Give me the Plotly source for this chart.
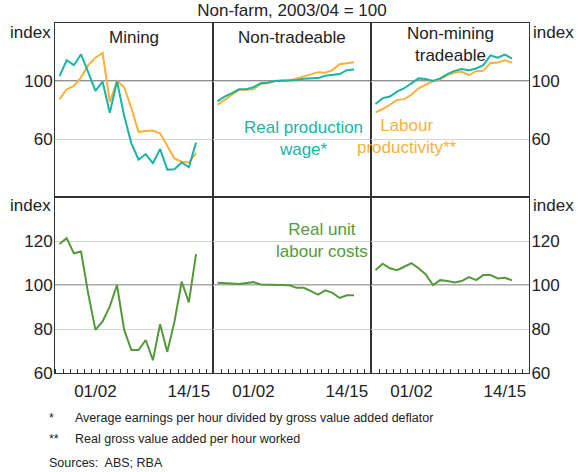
import plotly.graph_objects as go
from plotly.subplots import make_subplots

# Fiscal years 1995/96 .. 2014/15 (x = year ending June)
years = list(range(1996, 2016))
panel_titles = ["Mining", "Non-tradeable", "Non-mining<br>tradeable"]

# Real production wage* (teal)
rpw_mining = [103.4, 114.3, 110.9, 118.4, 106.0, 93.2, 99.5, 78.0, 99.8, 76.0,
              57.0, 45.7, 49.6, 43.4, 53.0, 38.9, 39.2, 43.8, 40.5, 57.5]
rpw_nontrad = [85.9, 89.3, 91.6, 94.3, 94.3, 95.7, 98.4, 98.9, 100.0, 100.2,
               100.2, 100.7, 101.6, 102.0, 102.0, 103.6, 104.1, 104.8, 107.5, 108.0]
rpw_nmtrad = [84.1, 88.2, 89.3, 92.7, 95.0, 98.4, 101.8, 101.4, 100.0, 101.8,
              104.8, 107.0, 108.2, 107.5, 108.6, 110.9, 117.7, 116.1, 118.2, 115.5]

# Labour productivity** (orange)
lp_mining = [87.5, 94.3, 96.6, 102.5, 110.9, 116.1, 119.3, 85.5, 100.0, 95.7,
             81.4, 64.8, 65.5, 65.9, 63.9, 55.2, 46.6, 44.3, 43.8, 50.2]
lp_nontrad = [83.6, 87.0, 90.5, 93.9, 93.9, 94.3, 98.0, 98.4, 100.0, 100.4,
              100.2, 101.6, 102.9, 104.3, 106.1, 105.7, 107.5, 111.6, 112.5, 113.0]
lp_nmtrad = [78.4, 80.7, 83.6, 87.0, 87.5, 90.5, 95.0, 97.3, 100.0, 101.1,
             104.1, 105.9, 106.4, 104.1, 106.8, 107.0, 112.5, 112.7, 114.3, 112.7]

# Real unit labour costs (green)
rulc_mining = [118.6, 121.3, 114.4, 115.2, 96.0, 79.6, 83.4, 90.3, 100.0, 79.6,
               70.4, 70.4, 75.0, 65.8, 82.2, 69.6, 83.4, 101.5, 92.1, 114.0]
rulc_nontrad = [101.0, 101.0, 100.7, 100.5, 100.8, 101.3, 100.2, 100.1, 100.0, 100.1,
                99.9, 98.7, 98.7, 97.2, 95.6, 97.6, 96.4, 94.1, 95.3, 95.3]
rulc_nmtrad = [106.7, 109.7, 107.6, 106.7, 108.3, 109.9, 107.6, 104.8, 100.0, 102.2,
               101.8, 101.1, 101.8, 103.6, 102.2, 104.5, 104.5, 103.0, 103.3, 102.1]

top_ticks = [60, 100]
bottom_ticks = [60, 80, 100, 120]
x_tick_vals = [2001, 2014]
x_tick_text = ["01/02", "14/15"]

TEAL = "#1AB3A5"
ORANGE = "#F9B13A"
GREEN = "#55993B"
FONT = "Liberation Sans, Arial, sans-serif"
FS = 17

fig = make_subplots(rows=2, cols=3, horizontal_spacing=0, vertical_spacing=0,
                    row_heights=[174, 176])

top = [(rpw_mining, lp_mining), (rpw_nontrad, lp_nontrad), (rpw_nmtrad, lp_nmtrad)]
bottom = [rulc_mining, rulc_nontrad, rulc_nmtrad]

for c, (rpw, lp) in enumerate(top, start=1):
    fig.add_trace(go.Scatter(x=years, y=lp, mode="lines", line=dict(color=ORANGE, width=2),
                             showlegend=False), row=1, col=c)
    fig.add_trace(go.Scatter(x=years, y=rpw, mode="lines", line=dict(color=TEAL, width=2),
                             showlegend=False), row=1, col=c)
for c, rulc in enumerate(bottom, start=1):
    fig.add_trace(go.Scatter(x=years, y=rulc, mode="lines", line=dict(color=GREEN, width=2),
                             showlegend=False), row=2, col=c)

xrange = [1995.375, 2017.36]
for r in (1, 2):
    for c in (1, 2, 3):
        fig.update_xaxes(row=r, col=c, range=xrange, showgrid=False, zeroline=False,
                         showline=True, mirror=True, linecolor="#333", linewidth=1,
                         tickmode="array", tickvals=x_tick_vals, ticktext=x_tick_text,
                         showticklabels=(r == 2), ticks="", ticklabelstandoff=3,
                         tickfont=dict(family=FONT, size=FS, color="#222"),
                         minor=dict(ticks="inside" if r == 2 else "", tick0=1995.5, dtick=1,
                                    ticklen=4, tickcolor="#333", showgrid=False))
        if r == 1:
            fig.update_yaxes(row=r, col=c, range=[20, 140], tickvals=top_ticks)
        else:
            fig.update_yaxes(row=r, col=c, range=[60, 140], tickvals=bottom_ticks)
        fig.update_yaxes(row=r, col=c, showgrid=True, gridcolor="#d4d4d4", gridwidth=1,
                         zeroline=False, showline=True, mirror=True, linecolor="#333",
                         linewidth=1, ticks="", showticklabels=(c != 2),
                         side="right" if c == 3 else "left", ticklabelstandoff=-2,
                         tickfont=dict(family=FONT, size=FS, color="#222"))

# dark reference lines at 100
fig.add_shape(type="line", xref="paper", x0=0, x1=1, yref="y", y0=100, y1=100,
              line=dict(color="#222", width=1), layer="between")
fig.add_shape(type="line", xref="paper", x0=0, x1=1, yref="y4", y0=100, y1=100,
              line=dict(color="#555", width=1), layer="between")

ann = []
for i, t in enumerate(panel_titles):
    ann.append(dict(text=t, x=(2 * i + 1) / 6, y=0.96 if i < 2 else 0.9386, xref="paper",
                    yref="paper", showarrow=False, font=dict(family=FONT, size=FS, color="#222"),
                    xanchor="center", yanchor="middle"))
# unit labels
for yr, yv in (("y", 133.4), ("y4", 136.0)):
    ann.append(dict(text="index", x=0, xref="paper", y=yv, yref=yr, xanchor="right",
                    xshift=-2, showarrow=False, font=dict(family=FONT, size=FS, color="#222")))
    ann.append(dict(text="index", x=1, xref="paper", y=yv, yref=yr, xanchor="left",
                    xshift=2, showarrow=False, font=dict(family=FONT, size=FS, color="#222")))
# series labels
ann.append(dict(text="Real production<br>wage*", x=0.5237, y=0.733, xref="paper", yref="paper",
                showarrow=False, font=dict(family=FONT, size=FS, color=TEAL)))
ann.append(dict(text="Labour<br>productivity**", x=0.8525, y=0.7414, xref="paper", yref="paper",
                showarrow=False, font=dict(family=FONT, size=FS, color=ORANGE)))
ann.append(dict(text="Real unit<br>labour costs", x=0.5638, y=0.3129, xref="paper", yref="paper",
                showarrow=False, font=dict(family=FONT, size=FS, color=GREEN)))
# footnotes
FN = 12.5
notes = [("*", "Average earnings per hour divided by gross value added deflator", 418),
         ("**", "Real gross value added per hour worked", 439)]
for sym, txt, py in notes:
    yp = (373 - py) / 350
    ann.append(dict(text=sym, x=(46.5 - 54.5) / 474.5, y=yp, xref="paper", yref="paper",
                    xanchor="left", yanchor="middle", showarrow=False,
                    font=dict(family=FONT, size=FN, color="#222")))
    ann.append(dict(text=txt, x=(73 - 54.5) / 474.5, y=yp, xref="paper", yref="paper",
                    xanchor="left", yanchor="middle", showarrow=False,
                    font=dict(family=FONT, size=FN, color="#222")))
ann.append(dict(text="Sources:  ABS; RBA", x=(46.5 - 54.5) / 474.5, y=(373 - 463) / 350,
                xref="paper", yref="paper", xanchor="left", yanchor="middle", showarrow=False,
                font=dict(family=FONT, size=FN, color="#222")))

fig.update_layout(
    width=586, height=472,
    margin=dict(l=54.5, r=57, t=23, b=99),
    paper_bgcolor="white", plot_bgcolor="white",
    title=dict(text="Non-farm, 2003/04 = 100", x=0.5, xref="paper", y=1 - 10 / 472,
               yanchor="middle", font=dict(family=FONT, size=FS, color="#222")),
    annotations=ann,
    showlegend=False,
)

fig.write_html("out.html", config={"displayModeBar": False},
               post_script="document.body.style.margin='0';")
